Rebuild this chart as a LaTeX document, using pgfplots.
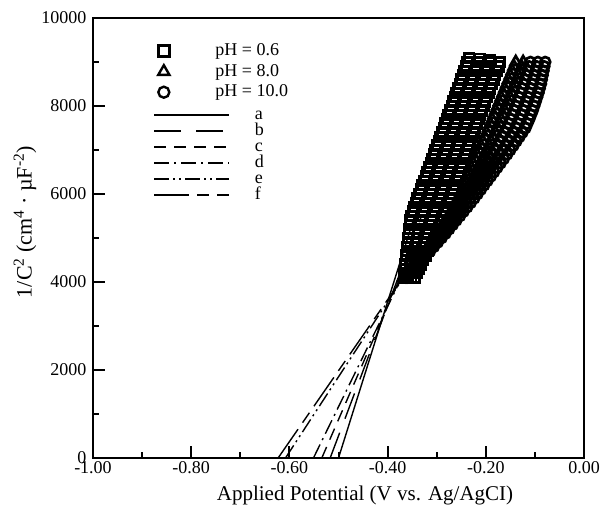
\documentclass[border=0pt]{standalone}
\usepackage{fontspec}
\setmainfont{Liberation Serif}
\usepackage{pgfplots}
\pgfplotsset{compat=1.18}
\pgfplotsset{
 sq/.style={only marks, black, mark=square, mark size=4.8pt, line width=2.7pt, mark options={solid, fill=none}, forget plot},
 tr/.style={only marks, black, mark=triangle, mark size=6pt, line width=2.7pt, mark options={solid, fill=none}, forget plot},
 ci/.style={only marks, black, mark=o, mark size=5pt, line width=2.7pt, mark options={solid, fill=none}, forget plot},
 fit/.style={no markers, black, line width=1.4pt, forget plot},
}
\begin{document}
\begin{tikzpicture}
\begin{axis}[
 scale only axis, width=491pt, height=440pt,
 xmin=-1, xmax=0, ymin=0, ymax=10000,
 scaled x ticks=false, scaled y ticks=false,
 xtick={-1,-0.8,-0.6,-0.4,-0.2,0},
 xticklabels={-1.00,-0.80,-0.60,-0.40,-0.20,0.00},
 ytick={0,2000,4000,6000,8000,10000},
 yticklabels={0,2000,4000,6000,8000,10000},
 minor xtick={-0.9,-0.7,-0.5,-0.3,-0.1},
 minor ytick={1000,3000,5000,7000,9000},
 tick pos=left, tick align=inside,
 major tick length=12pt, minor tick length=6pt,
 tick style={black, line width=2pt},
 axis line style={line width=2pt},
 tick label style={font=\fontsize{18}{20}\selectfont},
 yticklabel style={xshift=-3pt},
 xlabel={Applied Potential (V vs. Ag/AgCI)},
 ylabel={1/C\textsuperscript{2} (cm\textsuperscript{4} · µF\textsuperscript{-2})},
 label style={font=\fontsize{21}{24}\selectfont},
 ylabel style={font=\fontsize{22}{24}\selectfont, at={(axis description cs:-0.1385,0.536)}, anchor=center},
 xlabel style={at={(axis description cs:0.554,-0.0955)}, anchor=base},
 legend style={at={(axis description cs:0.1324,0.9443)}, anchor=north west, draw=none, fill=none, inner sep=0pt, row sep=3.5pt, column sep=46pt, font=\fontsize{18}{20}\selectfont, nodes={inner sep=0pt, text height=13pt, text depth=4pt}},
 legend cell align=left,
 legend image code/.code={\draw[#1] plot coordinates {(0pt,0pt)};},
]
% linear fits a-f
\addplot[fit] coordinates {(-0.500,0) (-0.345,5500)};
\addplot[fit, dash pattern=on 27pt off 15pt] coordinates {(-0.517,0) (-0.331,5500)};
\addplot[fit, dash pattern=on 12pt off 8pt] coordinates {(-0.534,0) (-0.320,5500)};
\addplot[fit, dash pattern=on 15pt off 5pt on 2pt off 5pt] coordinates {(-0.551,0) (-0.310,5500)};
\addplot[fit, dash pattern=on 15pt off 4pt on 2pt off 4pt on 2pt off 4pt] coordinates {(-0.608,0) (-0.286,5500)};
\addplot[fit, dash pattern=on 35pt off 8pt on 12pt off 8pt] coordinates {(-0.623,0) (-0.282,5500)};
% pH 0.6 (squares)
\addplot[sq] coordinates {(-0.3660,4100) (-0.3653,4200) (-0.3645,4300) (-0.3638,4400) (-0.3630,4500) (-0.3620,4600) (-0.3610,4700) (-0.3600,4800) (-0.3590,4900) (-0.3580,5000) (-0.3570,5100) (-0.3560,5200) (-0.3550,5300) (-0.3531,5400) (-0.3511,5500) (-0.3483,5600) (-0.3454,5700) (-0.3422,5800) (-0.3390,5900) (-0.3357,6000) (-0.3323,6100) (-0.3290,6200) (-0.3256,6300) (-0.3223,6400) (-0.3189,6500) (-0.3156,6600) (-0.3122,6700) (-0.3089,6800) (-0.3055,6900) (-0.3022,7000) (-0.2989,7100) (-0.2956,7200) (-0.2922,7300) (-0.2889,7400) (-0.2855,7500) (-0.2823,7600) (-0.2790,7700) (-0.2758,7800) (-0.2725,7900) (-0.2693,8000) (-0.2660,8100) (-0.2628,8200) (-0.2596,8300) (-0.2564,8400) (-0.2531,8500) (-0.2499,8600) (-0.2466,8700) (-0.2434,8800) (-0.2402,8900) (-0.2370,9000) (-0.2340,9090)};
\addplot[sq] coordinates {(-0.3590,4100) (-0.3570,4200) (-0.3550,4300) (-0.3531,4400) (-0.3511,4500) (-0.3490,4600) (-0.3468,4700) (-0.3447,4800) (-0.3425,4900) (-0.3405,5000) (-0.3384,5100) (-0.3365,5200) (-0.3346,5300) (-0.3321,5400) (-0.3296,5500) (-0.3265,5600) (-0.3233,5700) (-0.3200,5800) (-0.3166,5900) (-0.3133,6000) (-0.3099,6100) (-0.3067,6200) (-0.3034,6300) (-0.3002,6400) (-0.2969,6500) (-0.2937,6600) (-0.2905,6700) (-0.2873,6800) (-0.2840,6900) (-0.2808,7000) (-0.2776,7100) (-0.2743,7200) (-0.2710,7300) (-0.2677,7400) (-0.2643,7500) (-0.2610,7600) (-0.2577,7700) (-0.2544,7800) (-0.2511,7900) (-0.2478,8000) (-0.2445,8100) (-0.2413,8200) (-0.2380,8300) (-0.2347,8400) (-0.2314,8500) (-0.2281,8600) (-0.2248,8700) (-0.2216,8800) (-0.2183,8900) (-0.2150,9000) (-0.2127,9070)};
\addplot[sq] coordinates {(-0.3520,4100) (-0.3488,4200) (-0.3456,4300) (-0.3424,4400) (-0.3391,4500) (-0.3358,4600) (-0.3325,4700) (-0.3292,4800) (-0.3259,4900) (-0.3229,5000) (-0.3199,5100) (-0.3171,5200) (-0.3143,5300) (-0.3112,5400) (-0.3080,5500) (-0.3046,5600) (-0.3012,5700) (-0.2977,5800) (-0.2941,5900) (-0.2908,6000) (-0.2874,6100) (-0.2843,6200) (-0.2812,6300) (-0.2781,6400) (-0.2750,6500) (-0.2719,6600) (-0.2687,6700) (-0.2656,6800) (-0.2625,6900) (-0.2594,7000) (-0.2563,7100) (-0.2531,7200) (-0.2498,7300) (-0.2464,7400) (-0.2430,7500) (-0.2397,7600) (-0.2364,7700) (-0.2331,7800) (-0.2297,7900) (-0.2264,8000) (-0.2230,8100) (-0.2197,8200) (-0.2163,8300) (-0.2130,8400) (-0.2096,8500) (-0.2063,8600) (-0.2030,8700) (-0.1997,8800) (-0.1963,8900) (-0.1930,9000) (-0.1914,9045)};
\addplot[sq] coordinates {(-0.3450,4100) (-0.3406,4200) (-0.3361,4300) (-0.3317,4400) (-0.3272,4500) (-0.3228,4600) (-0.3183,4700) (-0.3139,4800) (-0.3094,4900) (-0.3054,5000) (-0.3013,5100) (-0.2976,5200) (-0.2939,5300) (-0.2902,5400) (-0.2865,5500) (-0.2828,5600) (-0.2791,5700) (-0.2754,5800) (-0.2717,5900) (-0.2684,6000) (-0.2650,6100) (-0.2620,6200) (-0.2590,6300) (-0.2560,6400) (-0.2530,6500) (-0.2500,6600) (-0.2470,6700) (-0.2440,6800) (-0.2410,6900) (-0.2380,7000) (-0.2350,7100) (-0.2318,7200) (-0.2286,7300) (-0.2252,7400) (-0.2218,7500) (-0.2185,7600) (-0.2151,7700) (-0.2117,7800) (-0.2083,7900) (-0.2049,8000) (-0.2015,8100) (-0.1981,8200) (-0.1947,8300) (-0.1913,8400) (-0.1879,8500) (-0.1846,8600) (-0.1812,8700) (-0.1778,8800) (-0.1744,8900) (-0.1710,9000)};
% pH 8.0 (triangles)
\addplot[tr] coordinates {(-0.3680,4100) (-0.3605,4200) (-0.3529,4300) (-0.3454,4400) (-0.3378,4500) (-0.3303,4600) (-0.3227,4700) (-0.3152,4800) (-0.3076,4900) (-0.3014,5000) (-0.2952,5100) (-0.2904,5200) (-0.2856,5300) (-0.2808,5400) (-0.2760,5500) (-0.2712,5600) (-0.2664,5700) (-0.2616,5800) (-0.2568,5900) (-0.2525,6000) (-0.2482,6100) (-0.2444,6200) (-0.2405,6300) (-0.2367,6400) (-0.2328,6500) (-0.2290,6600) (-0.2251,6700) (-0.2213,6800) (-0.2174,6900) (-0.2136,7000) (-0.2097,7100) (-0.2059,7200) (-0.2020,7300) (-0.1983,7400) (-0.1946,7500) (-0.1909,7600) (-0.1872,7700) (-0.1835,7800) (-0.1798,7900) (-0.1761,8000) (-0.1724,8100) (-0.1687,8200) (-0.1649,8300) (-0.1612,8400) (-0.1575,8500) (-0.1538,8600) (-0.1501,8700) (-0.1464,8800) (-0.1427,8900) (-0.1390,9000)};
\addplot[tr] coordinates {(-0.3660,4100) (-0.3585,4200) (-0.3509,4300) (-0.3433,4400) (-0.3357,4500) (-0.3281,4600) (-0.3204,4700) (-0.3128,4800) (-0.3052,4900) (-0.2986,5000) (-0.2919,5100) (-0.2865,5200) (-0.2810,5300) (-0.2756,5400) (-0.2702,5500) (-0.2648,5600) (-0.2593,5700) (-0.2539,5800) (-0.2485,5900) (-0.2436,6000) (-0.2387,6100) (-0.2341,6200) (-0.2295,6300) (-0.2250,6400) (-0.2204,6500) (-0.2159,6600) (-0.2113,6700) (-0.2068,6800) (-0.2022,6900) (-0.1977,7000) (-0.1932,7100) (-0.1888,7200) (-0.1844,7300) (-0.1801,7400) (-0.1757,7500) (-0.1720,7600) (-0.1683,7700) (-0.1646,7800) (-0.1609,7900) (-0.1574,8000) (-0.1539,8100) (-0.1504,8200) (-0.1468,8300) (-0.1435,8400) (-0.1401,8500) (-0.1369,8600) (-0.1336,8700) (-0.1304,8800) (-0.1272,8900) (-0.1240,9000)};
% pH 10.0 (circles)
\addplot[ci] coordinates {(-0.3640,4100) (-0.3565,4200) (-0.3489,4300) (-0.3413,4400) (-0.3336,4500) (-0.3259,4600) (-0.3181,4700) (-0.3105,4800) (-0.3028,4900) (-0.2957,5000) (-0.2886,5100) (-0.2825,5200) (-0.2764,5300) (-0.2704,5400) (-0.2644,5500) (-0.2583,5600) (-0.2522,5700) (-0.2462,5800) (-0.2402,5900) (-0.2347,6000) (-0.2292,6100) (-0.2239,6200) (-0.2185,6300) (-0.2133,6400) (-0.2080,6500) (-0.2028,6600) (-0.1975,6700) (-0.1923,6800) (-0.1870,6900) (-0.1819,7000) (-0.1767,7100) (-0.1718,7200) (-0.1668,7300) (-0.1618,7400) (-0.1568,7500) (-0.1531,7600) (-0.1494,7700) (-0.1457,7800) (-0.1420,7900) (-0.1387,8000) (-0.1354,8100) (-0.1321,8200) (-0.1287,8300) (-0.1257,8400) (-0.1227,8500) (-0.1199,8600) (-0.1171,8700) (-0.1144,8800) (-0.1117,8900) (-0.1090,9000)};
\addplot[ci] coordinates {(-0.3620,4100) (-0.3545,4200) (-0.3469,4300) (-0.3392,4400) (-0.3315,4500) (-0.3237,4600) (-0.3158,4700) (-0.3081,4800) (-0.3004,4900) (-0.2929,5000) (-0.2853,5100) (-0.2786,5200) (-0.2718,5300) (-0.2652,5400) (-0.2586,5500) (-0.2519,5600) (-0.2451,5700) (-0.2385,5800) (-0.2319,5900) (-0.2258,6000) (-0.2197,6100) (-0.2136,6200) (-0.2075,6300) (-0.2016,6400) (-0.1956,6500) (-0.1897,6600) (-0.1837,6700) (-0.1778,6800) (-0.1718,6900) (-0.1660,7000) (-0.1602,7100) (-0.1547,7200) (-0.1492,7300) (-0.1436,7400) (-0.1379,7500) (-0.1342,7600) (-0.1305,7700) (-0.1268,7800) (-0.1231,7900) (-0.1200,8000) (-0.1169,8100) (-0.1138,8200) (-0.1106,8300) (-0.1080,8400) (-0.1053,8500) (-0.1030,8600) (-0.1006,8700) (-0.0984,8800) (-0.0962,8900) (-0.0940,9000)};
\addplot[ci] coordinates {(-0.3600,4100) (-0.3525,4200) (-0.3450,4300) (-0.3372,4400) (-0.3294,4500) (-0.3215,4600) (-0.3136,4700) (-0.3058,4800) (-0.2979,4900) (-0.2900,5000) (-0.2821,5100) (-0.2748,5200) (-0.2674,5300) (-0.2601,5400) (-0.2527,5500) (-0.2454,5600) (-0.2380,5700) (-0.2308,5800) (-0.2236,5900) (-0.2169,6000) (-0.2102,6100) (-0.2035,6200) (-0.1967,6300) (-0.1900,6400) (-0.1833,6500) (-0.1767,6600) (-0.1700,6700) (-0.1634,6800) (-0.1567,6900) (-0.1503,7000) (-0.1438,7100) (-0.1377,7200) (-0.1315,7300) (-0.1254,7400) (-0.1192,7500) (-0.1154,7600) (-0.1115,7700) (-0.1080,7800) (-0.1044,7900) (-0.1015,8000) (-0.0985,8100) (-0.0956,8200) (-0.0927,8300) (-0.0903,8400) (-0.0878,8500) (-0.0861,8600) (-0.0843,8700) (-0.0826,8800) (-0.0808,8900) (-0.0790,9000)};
\addlegendimage{only marks, black, mark=square, mark size=5.5pt, line width=2.4pt, mark options={solid}}
\addlegendentry{pH = 0.6}
\addlegendimage{only marks, black, mark=triangle, mark size=6.5pt, line width=2.4pt, mark options={solid}}
\addlegendentry{pH = 8.0}
\addlegendimage{only marks, black, mark=o, mark size=5.5pt, line width=2.4pt, mark options={solid}}
\addlegendentry{pH = 10.0}
\end{axis}
\begin{axis}[
 scale only axis, width=491pt, height=440pt,
 xmin=-1, xmax=0, ymin=0, ymax=10000, hide axis,
 legend style={at={(axis description cs:0.1222,0.7977)}, anchor=north west, draw=none, fill=none, inner sep=0pt, row sep=0pt, column sep=25pt, font=\fontsize{18}{20}\selectfont, nodes={inner sep=0pt, text height=12pt, text depth=4pt}},
 legend cell align=left,
 legend image code/.code={\draw[#1] (0pt,0pt) -- (75pt,0pt);},
]
\addlegendimage{black, line width=1.8pt}
\addlegendentry{a}
\addlegendimage{black, line width=1.8pt, dash pattern=on 27pt off 15pt}
\addlegendentry{b}
\addlegendimage{black, line width=1.8pt, dash pattern=on 12pt off 8pt}
\addlegendentry{c}
\addlegendimage{black, line width=1.8pt, dash pattern=on 15pt off 5pt on 2pt off 5pt}
\addlegendentry{d}
\addlegendimage{black, line width=1.8pt, dash pattern=on 15pt off 4pt on 2pt off 4pt on 2pt off 4pt}
\addlegendentry{e}
\addlegendimage{black, line width=1.8pt, dash pattern=on 35pt off 8pt on 12pt off 8pt}
\addlegendentry{f}
\end{axis}
\pgfresetboundingbox
\path[use as bounding box] (-93pt,-58pt) rectangle (507pt,458pt);
\end{tikzpicture}
\end{document}
